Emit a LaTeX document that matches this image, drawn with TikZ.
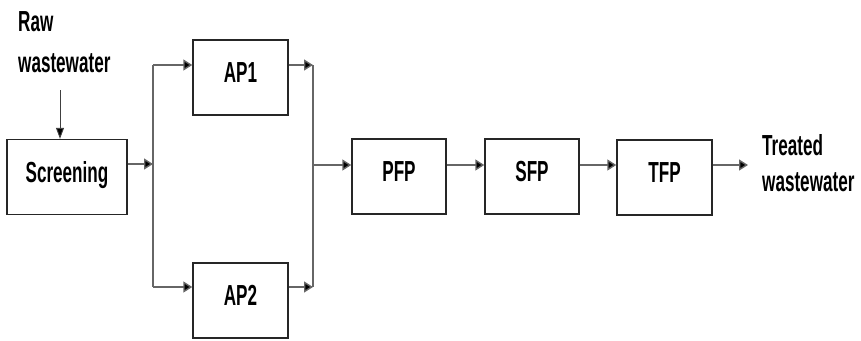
\documentclass[tikz,border=0pt]{standalone}
\usepackage{fontspec}
\setmainfont{Liberation Sans}[FakeStretch=0.59]
\usetikzlibrary{arrows.meta}
\begin{document}
\begin{tikzpicture}[x=1pt,y=-1pt,
  font=\bfseries\fontsize{29}{32}\selectfont,
  stage/.style={draw=black!85,line width=1.4pt,inner sep=0pt,
    minimum width=95pt,minimum height=75pt,text height=20pt,text depth=10pt},
  label/.style={inner sep=0pt,anchor=base west,align=left},
  flow/.style={draw=black!60,line width=1.4pt,
    -{Triangle[length=9pt,width=11pt,fill=black]}},
  pipe/.style={draw=black!60,line width=1.4pt},
  feed/.style={draw=black!75,line width=0.9pt,
    -{Triangle[length=11pt,width=8pt,fill=black]}}]
\useasboundingbox (0,0) rectangle (861,340);

% process stages
\node[stage,minimum width=120pt] (scr) at (67,177) {Screening};
\node[stage] (ap1) at (240.5,77.5) {AP1};
\node[stage] (ap2) at (240.5,300.5) {AP2};
\node[stage,minimum width=94pt] (pfp) at (399,176.5) {PFP};
\node[stage,minimum width=94pt] (sfp) at (532,176.5) {SFP};
\node[stage] (tfp) at (664.5,177.5) {TFP};

% inlet and outlet labels (anchored at the baseline of the last line)
\node[label,font=\bfseries\fontsize{29}{41}\selectfont] (raw) at (18,72) {Raw\\wastewater};
\node[label,font=\bfseries\fontsize{29}{36}\selectfont] (out) at (762,191) {Treated\\wastewater};

% junction points of the split and merge lines
\coordinate (rawend) at (60,90);
\coordinate (split) at (153,164);
\coordinate (b1) at (153,65);
\coordinate (b2) at (153,287);
\coordinate (m1) at (313,65);
\coordinate (m2) at (313,287);
\coordinate (merge) at (313,165);
\coordinate (exit) at (748,165);

% raw wastewater into screening
\draw[feed] (rawend) -- (rawend |- scr.north);

% split to the two parallel lines
\draw[flow] (scr.east |- split) -- (split);
\draw[pipe] (b1) -- (b2);
\draw[flow] (b1) -- (ap1.west |- b1);
\draw[flow] (b2) -- (ap2.west |- b2);

% merge back into the pond series
\draw[flow] (ap1.east |- m1) -- (m1);
\draw[flow] (ap2.east |- m2) -- (m2);
\draw[pipe] (m1) -- (m2);
\draw[flow] (merge) -- (pfp.west |- merge);
\draw[flow] (pfp.east |- merge) -- (sfp.west |- merge);
\draw[flow] (sfp.east |- merge) -- (tfp.west |- merge);
\draw[flow] (tfp.east |- merge) -- (exit);
\end{tikzpicture}
\end{document}
